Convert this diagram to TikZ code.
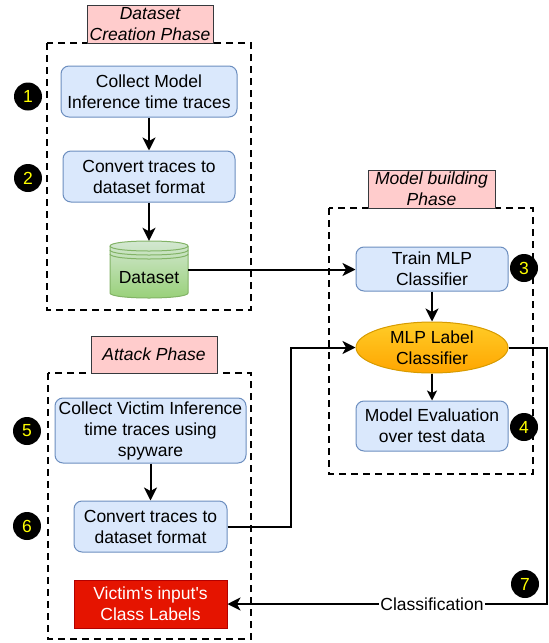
\documentclass[tikz,border=0pt]{standalone}
\usepackage{fontspec}
\setmainfont{Liberation Sans}
\newfontfamily\lsans{Liberation Sans}
\usetikzlibrary{arrows.meta,shapes.geometric}
\definecolor{phasefill}{HTML}{FFCCCC}
\definecolor{phasedraw}{HTML}{36393D}
\definecolor{bluefill}{HTML}{DAE8FC}
\definecolor{bluedraw}{HTML}{6C8EBF}
\definecolor{cyltop}{HTML}{D5E8D4}
\definecolor{cylbot}{HTML}{97D077}
\definecolor{cyldraw}{HTML}{82B366}
\definecolor{elltop}{HTML}{FFCD28}
\definecolor{ellbot}{HTML}{FFA500}
\definecolor{elldraw}{HTML}{D79B00}
\definecolor{redfill}{HTML}{E51400}
\definecolor{reddraw}{HTML}{B20000}
\definecolor{numyellow}{HTML}{FFFF00}
\begin{document}
\begin{tikzpicture}[x=1pt,y=-1pt,
  txt/.style={font=\lsans\fontsize{17.5}{21}\selectfont, align=center},
  phase/.style={txt, font=\lsans\fontsize{17.5}{21}\selectfont\itshape, draw=phasedraw, fill=phasefill, line width=1pt, inner sep=0pt},
  bluebox/.style={txt, draw=bluedraw, fill=bluefill, rounded corners=8pt, line width=1pt, inner sep=0pt},
  numcirc/.style={circle, fill=black, text=numyellow, minimum size=28pt, inner sep=0pt, font=\lsans\fontsize{17.5}{20}\selectfont},
  dashbox/.style={draw=black, line width=2pt, dash pattern=on 7pt off 5pt},
  arr/.style={line width=2pt, -{Stealth[length=13pt,width=13pt,inset=3.5pt]}},
  thinarr/.style={line width=1.5pt, -{Stealth[length=10pt,width=10pt,inset=2.5pt]}},
]
\useasboundingbox (0,0) rectangle (549,643);

% dashed containers
\draw[dashbox] (47,43) rectangle (251,310);
\draw[dashbox] (329,208) rectangle (533,474);
\draw[dashbox] (48,373) rectangle (251,639);

% phase labels
\node[phase, minimum width=126pt, minimum height=38pt] (lab1) at (150,24) {Dataset\\Creation Phase};
\node[phase, minimum width=127pt, minimum height=38pt] (lab2) at (431.5,189) {Model building\\Phase};
\node[phase, minimum width=126pt, minimum height=37pt] (lab3) at (154,354.5) {Attack Phase};

% dataset creation
\node[bluebox, minimum width=176pt, minimum height=51pt] (b1) at (149,91.5) {Collect Model\\Inference time traces};
\node[bluebox, minimum width=172pt, minimum height=51pt] (b2) at (149,176.5) {Convert traces to\\dataset format};
\node[minimum width=78pt, minimum height=57pt, inner sep=0pt] (cyl) at (149,269.5) {};
\path[top color=cyltop, bottom color=cylbot, draw=cyldraw, line width=1pt]
  (110,246) -- (110,293) .. controls (110,299.67) and (188,299.67) .. (188,293)
  -- (188,246) .. controls (188,239.33) and (110,239.33) .. cycle;
\draw[cyldraw, line width=1pt] (110,246) .. controls (110,252.67) and (188,252.67) .. (188,246);
\draw[cyldraw, line width=1pt] (110,250) .. controls (110,256.67) and (188,256.67) .. (188,250);
\draw[cyldraw, line width=1pt] (110,254) .. controls (110,260.67) and (188,260.67) .. (188,254);
\node[txt, inner sep=0pt] (dstext) at (149,278) {Dataset};

% model building
\node[bluebox, minimum width=152pt, minimum height=44pt] (train) at (432,269) {Train MLP\\Classifier};
\node[txt, ellipse, draw=elldraw, top color=elltop, bottom color=ellbot, line width=1pt, minimum width=152pt, minimum height=51pt, inner sep=0pt] (mlp) at (432,347.5) {MLP Label\\Classifier};
\node[bluebox, minimum width=152pt, minimum height=50pt] (eval) at (432,426) {Model Evaluation\\over test data};

% attack
\node[bluebox, minimum width=191pt, minimum height=65pt] (v1) at (150.5,430.5) {Collect Victim Inference\\time traces using\\spyware};
\node[bluebox, minimum width=153pt, minimum height=51pt] (v2) at (150.5,526.5) {Convert traces to\\dataset format};
\node[txt, draw=reddraw, fill=redfill, text=white, line width=1pt, minimum width=153pt, minimum height=48pt, inner sep=0pt] (labels) at (150.5,604) {Victim's input's\\Class Labels};

% numbers
\node[numcirc] (n1) at (28,96.5) {1};
\node[numcirc] (n2) at (28,178) {2};
\node[numcirc] (n3) at (524,268) {3};
\node[numcirc] (n4) at (524,427) {4};
\node[numcirc] (n5) at (27,431) {5};
\node[numcirc] (n6) at (27,526) {6};
\node[numcirc] (n7) at (525,584) {7};

% connectors
\draw[arr] (b1) -- (b2);
\draw[arr] (b2) -- (cyl.north);
\draw[arr] (cyl.east) -- (cyl.east -| train.west);
\draw[arr] (train) -- (mlp);
\draw[thinarr] (mlp) -- (eval);
\draw[arr] (v1) -- (v2);
\coordinate (j1) at (291,526.5);
\draw[arr] (v2.east) -- (j1) |- (mlp.west);
\coordinate (j2) at (547,604);
\draw[arr] (mlp.east) -| (j2) -- node[pos=0.36, txt, fill=white, inner sep=1pt] (cls) {Classification} (labels.east);
\end{tikzpicture}
\end{document}
